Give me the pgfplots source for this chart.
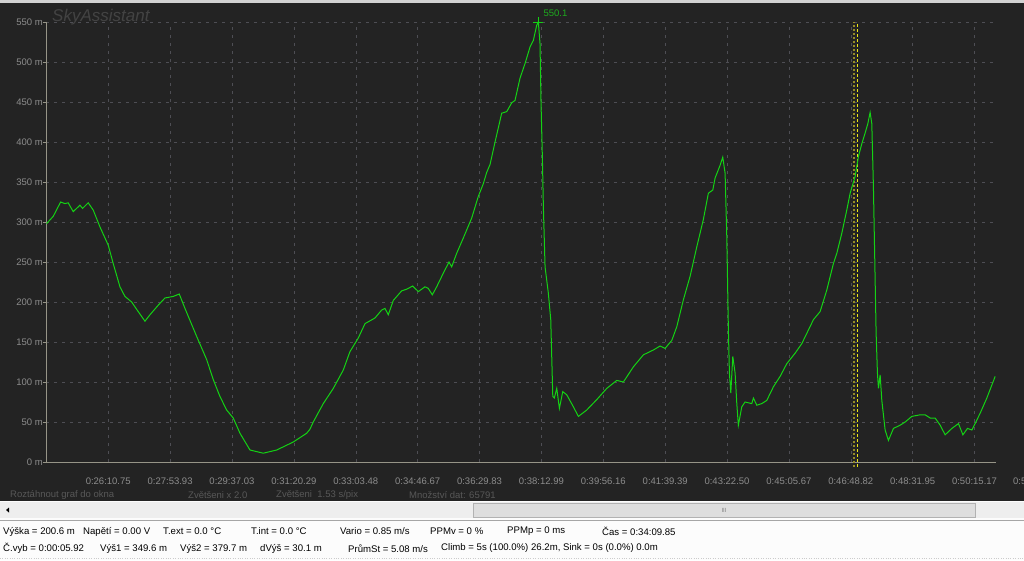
\documentclass[border=0pt]{standalone}
\usepackage{pgfplots}
\pgfplotsset{compat=1.18}
\usepackage{fontspec}
\setmainfont{Liberation Sans}

\definecolor{bgdark}{RGB}{35,35,35}
\definecolor{gridc}{RGB}{78,78,84}
\definecolor{axisc}{RGB}{150,148,135}
\definecolor{tickc}{RGB}{140,140,140}
\definecolor{dimtext}{RGB}{88,88,88}
\definecolor{trace}{RGB}{20,210,20}
\definecolor{peakc}{RGB}{30,170,30}
\definecolor{markA}{RGB}{150,140,40}
\definecolor{markB}{RGB}{235,230,20}
\definecolor{panel}{RGB}{252,252,252}
\definecolor{track}{RGB}{238,238,238}
\definecolor{thumb}{RGB}{222,222,222}

\begin{document}
\begin{tikzpicture}
\useasboundingbox (0pt,0pt) rectangle (1024pt,-560pt);
\begin{scope}[x=1pt,y=1pt]
% window background (pixel units, y downwards as negative)
\fill[panel] (0,0) rectangle (1024,-560);
\fill[bgdark] (0,-3) rectangle (1024,-501);
\fill[gray!35] (0,0) rectangle (1024,-3);
% scrollbar
\fill[track] (0,-502) rectangle (1024,-518);
\fill[thumb] (473,-503) rectangle (975,-517);
\draw[gray!60] (473,-503) rectangle (975,-517);
\node[font=\fontsize{6}{6}\selectfont, text=gray] at (724,-510) {III};
\fill[black] (6,-510) -- (9,-507.5) -- (9,-512.5) -- cycle;
\draw[gray!70] (0,-520.5) -- (1024,-520.5);
\draw[gray!40, dotted] (0,-558) -- (1024,-558);

% bottom dark info line
\begin{scope}[every node/.style={font=\fontsize{9.5}{10}\selectfont, text=dimtext, anchor=west, inner sep=0pt}]
\node at (10,-495) {Roztáhnout graf do okna};
\node at (188,-495) {Zvětšeni x 2.0};
\node at (276,-495) {Zvětšeni\ \ 1.53 s/pix};
\node at (409,-495) {Množství dat: 65791};
\end{scope}

% status panel
\begin{scope}[every node/.style={font=\fontsize{9.6}{11}\selectfont, text=black, anchor=west, inner sep=0pt}]
\node at (3,-531.5) {Výška = 200.6 m};
\node at (83,-531.5) {Napětí = 0.00 V};
\node at (163,-531.5) {T.ext = 0.0 °C};
\node at (251,-531.5) {T.int = 0.0 °C};
\node at (340,-531.5) {Vario = 0.85 m/s};
\node at (430,-531.5) {PPMv = 0 \%};
\node at (507,-531.5) {PPMp = 0 ms};
\node at (602,-531.5) {Čas = 0:34:09.85};
\node at (3,-548.5) {Č.vyb = 0:00:05.92};
\node at (100,-548.5) {Výš1 = 349.6 m};
\node at (180,-548.5) {Výš2 = 379.7 m};
\node at (260,-548.5) {dVýš = 30.1 m};
\node at (348,-548.5) {PrůmSt = 5.08 m/s};
\node at (441,-548.5) {Climb = 5s (100.0\%) 26.2m, Sink = 0s (0.0\%) 0.0m};
\end{scope}

% next tick label, cut by the right edge of the window
\node[font=\fontsize{9.5}{10}\selectfont, text=tickc, anchor=west, inner sep=0pt] at (1013,-481) {0:5};

% watermark
\node[font=\fontsize{17}{18}\itshape, text=gray!35!bgdark, anchor=west, inner sep=0pt] at (52,-17) {SkyAssistant};
\end{scope}

\begin{axis}[
  at={(46pt,-462pt)}, anchor=south west,
  scale only axis, width=950pt, height=440pt,
  xmin=1467, xmax=3051, ymin=0, ymax=550,
  clip=false,
  axis lines=left,
  axis line style={-, draw=axisc},
  xtick={1570.75,1673.93,1777.03,1880.29,1983.48,2086.67,2189.83,2292.99,2396.16,2499.39,2602.50,2705.67,2808.82,2911.95,3015.17},
  xticklabels={0:26:10.75,0:27:53.93,0:29:37.03,0:31:20.29,0:33:03.48,0:34:46.67,0:36:29.83,0:38:12.99,0:39:56.16,0:41:39.39,0:43:22.50,0:45:05.67,0:46:48.82,0:48:31.95,0:50:15.17},
  ytick={0,50,...,550},
  yticklabels={0 m,50 m,100 m,150 m,200 m,250 m,300 m,350 m,400 m,450 m,500 m,550 m},
  xtick style={draw=none},
  ytick style={draw=axisc},
  tick align=outside, major tick length=3pt,
  xticklabel style={font=\fontsize{9.5}{10}\selectfont, text=tickc, anchor=north, inner sep=0pt, yshift=-13pt},
  yticklabel style={font=\fontsize{9.5}{10}\selectfont, text=tickc, anchor=east, inner sep=0pt},
  grid=major,
  major grid style={draw=gridc, dash pattern=on 3pt off 5pt},
]
\addplot[draw=markA, line width=1.6pt, dash pattern=on 2pt off 2pt] coordinates {(2814.4,-6) (2814.4,550)};
\addplot[draw=markB, line width=1.1pt, dash pattern=on 3pt off 2pt] coordinates {(2820.0,-6) (2820.0,550)};
\addplot[draw=trace, line width=1pt] coordinates {
(1468.0,298) (1479.0,307) (1491.4,325) (1498.5,323) (1504.0,324) (1512.4,313)
(1523.6,321) (1528.0,317) (1537.4,324) (1545.7,315) (1556.9,294) (1570.8,271)
(1579.1,248) (1590.3,219) (1598.6,207) (1609.8,200) (1620.8,188) (1632.0,176)
(1640.3,184) (1654.1,196) (1665.3,205) (1679.2,207) (1689.2,210) (1698.7,192)
(1718.2,157) (1734.9,128) (1745.9,103) (1757.0,82) (1768.2,65) (1779.2,55)
(1790.4,36) (1807.1,15) (1829.3,11) (1851.6,15) (1879.3,25) (1901.7,36)
(1907.1,41) (1912.6,50) (1929.3,73) (1946.0,92) (1962.7,115) (1973.8,138)
(1987.7,155) (1998.9,173) (2015.5,180) (2026.7,190) (2032.2,192) (2037.7,184)
(2046.1,202) (2060.1,214) (2068.4,216) (2078.4,220) (2087.8,213) (2098.9,219)
(2104.4,217) (2111.1,209) (2118.4,219) (2129.4,236) (2138.9,250) (2143.4,244)
(2151.8,261) (2162.8,280) (2176.8,305) (2187.8,332) (2196.2,348) (2201.8,362)
(2207.4,372) (2215.7,400) (2226.8,436) (2235.2,438) (2243.5,449) (2249.0,452)
(2257.4,480) (2265.7,498) (2274.1,519) (2279.6,527) (2285.2,546) (2287.9,550.1)
(2290.7,523) (2292.4,448) (2294.6,382) (2296.3,319) (2299.1,244) (2304.6,211)
(2308.6,178) (2312.0,82) (2314.6,80) (2318.6,92) (2323.0,67) (2328.6,88)
(2335.3,84) (2346.3,69) (2354.7,57) (2368.6,65) (2385.3,78) (2402.0,92)
(2418.7,102) (2429.7,100) (2446.4,119) (2463.1,134) (2479.7,140) (2490.9,145)
(2499.2,142) (2510.4,152) (2518.7,169) (2529.8,203) (2540.9,232) (2552.1,269)
(2563.0,303) (2571.4,336) (2578.8,340) (2582.6,355) (2591.0,371) (2595.4,381)
(2599.3,361) (2602.1,282) (2604.8,165) (2606.5,111) (2608.8,86) (2612.1,132)
(2616.0,111) (2618.8,73) (2621.4,46) (2627.1,69) (2632.6,75) (2643.8,73)
(2646.5,80) (2652.1,71) (2660.4,73) (2668.8,77) (2679.8,94) (2691.0,107)
(2702.2,123) (2716.0,136) (2727.2,148) (2746.6,178) (2757.7,188) (2768.9,215)
(2779.9,248) (2785.6,261) (2793.9,286) (2802.2,315) (2807.8,336) (2816.1,357)
(2821.6,382) (2827.3,398) (2832.7,411) (2837.3,423) (2841.1,437) (2843.9,423)
(2846.6,344) (2851.1,161) (2853.3,111) (2855.0,92) (2857.8,109) (2860.6,77)
(2866.1,40) (2871.6,27) (2880.0,42) (2891.1,46) (2899.5,50) (2910.6,57)
(2924.5,59) (2932.8,59) (2941.2,55) (2949.5,55) (2957.9,46) (2966.2,34)
(2977.4,42) (2988.4,48) (2995.8,34) (3003.4,42) (3010.8,40) (3024.6,61)
(3035.7,80) (3049.6,107)
};
\addplot[only marks, mark=+, mark size=5pt, draw=trace,
  nodes near coords={550.1},
  nodes near coords style={font=\fontsize{9.5}{10}\selectfont, text=peakc, anchor=south west, inner sep=0pt, xshift=5pt, yshift=5pt}]
  coordinates {(2287.9,550.1)};
\end{axis}
\end{tikzpicture}
\end{document}
